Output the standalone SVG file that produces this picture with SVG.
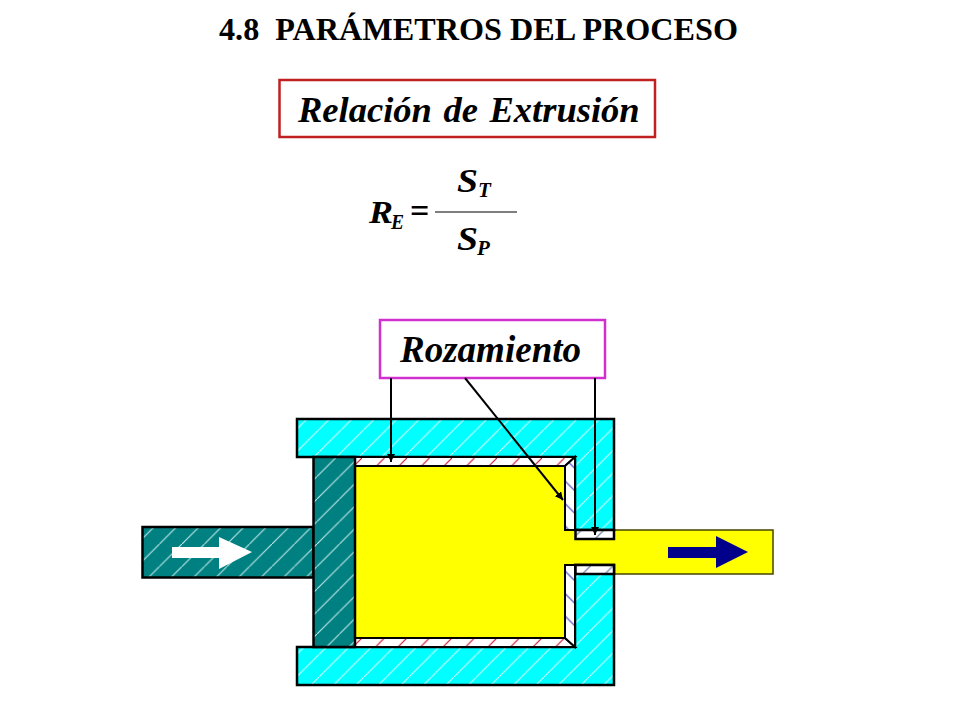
<svg xmlns="http://www.w3.org/2000/svg" width="960" height="720" viewBox="0 0 960 720">
<style>
.t{font-family:"Liberation Serif","Times New Roman",serif;font-weight:bold;fill:#000}
.i{font-style:italic}
.s{stroke:#000;stroke-width:2.5;stroke-linejoin:miter}
.l{stroke:#000;stroke-width:2;stroke-linejoin:miter}
.c{stroke:#000;stroke-width:2;fill:none;marker-end:url(#a)}
</style>
<defs>
<marker id="a" markerUnits="userSpaceOnUse" markerWidth="10" markerHeight="10" refX="8" refY="4" orient="auto"><path d="M0,0L8,4L0,8Z" fill="#000"/></marker>
<pattern id="hc" patternUnits="userSpaceOnUse" width="22.5" height="22.5" patternTransform="translate(4 2)"><rect width="22.5" height="22.5" fill="#00ffff"/><path d="M-2,24.5L24.5,-2" stroke="#d8ffff" stroke-width="1"/></pattern>
<pattern id="ht" patternUnits="userSpaceOnUse" width="22.5" height="22.5" patternTransform="translate(2 4)"><rect width="22.5" height="22.5" fill="#008080"/><path d="M-2,24.5L24.5,-2" stroke="#c8ecec" stroke-width="1"/></pattern>
<pattern id="hr" patternUnits="userSpaceOnUse" width="22.5" height="22.5" patternTransform="translate(2 8)"><rect width="22.5" height="22.5" fill="#fff"/><path d="M-2,24.5L24.5,-2" stroke="#d01830" stroke-width="1.200"/></pattern>
<pattern id="hb" patternUnits="userSpaceOnUse" width="22.5" height="22.5" patternTransform="translate(0 6)"><rect width="22.5" height="22.5" fill="#fff"/><path d="M-2,-2L24.5,24.5" stroke="#4040c0" stroke-width="1.200"/></pattern>
<pattern id="hw" patternUnits="userSpaceOnUse" width="22.5" height="22.5" patternTransform="translate(6 3)"><rect width="22.5" height="22.5" fill="#fff"/><path d="M-2,24.5L24.5,-2" stroke="#6070a0" stroke-width="1.200"/></pattern>
</defs>

<text id="title" class="t" x="219" y="40" font-size="31" textLength="519" lengthAdjust="spacingAndGlyphs" xml:space="preserve">4.8  PARÁMETROS DEL PROCESO</text>

<g id="box-relacion">
<rect x="279.500" y="80" width="375.500" height="57" fill="#fff" stroke="#c02020" stroke-width="2.500"/>
<text class="t i" x="298" y="122" font-size="36.500" word-spacing="2.500">Relación de Extrusión</text>
</g>

<g id="formula">
<text class="t i" x="369" y="223" font-size="32" textLength="24" lengthAdjust="spacingAndGlyphs">R</text>
<text class="t i" x="391" y="229" font-size="20" textLength="13" lengthAdjust="spacingAndGlyphs">E</text>
<text class="t" x="410" y="222" font-size="34">=</text>
<text class="t i" x="457" y="192" font-size="33" textLength="21" lengthAdjust="spacingAndGlyphs">S</text>
<text class="t i" x="478" y="197" font-size="21">T</text>
<path d="M435,212H517" stroke="#000" stroke-width="1.200"/>
<text class="t i" x="457" y="250" font-size="33" textLength="21" lengthAdjust="spacingAndGlyphs">S</text>
<text class="t i" x="477" y="255" font-size="21">P</text>
</g>

<g id="box-rozamiento">
<rect x="380" y="320" width="225" height="58" fill="#fff" stroke="#d030d0" stroke-width="2.500"/>
<text class="t i" x="400" y="362" font-size="37" textLength="181" lengthAdjust="spacing">Rozamiento</text>
</g>

<g id="billet">
<path d="M355,466H565V530H575V539H614V530H773V574H614V565H575V574H565V638H355Z" fill="#ffff00"/>
<path d="M614,530H773V574H614" fill="none" stroke="#444400" stroke-width="1.500"/>
</g>

<g id="die">
<path class="s" d="M297,419H614V530H575V457H297Z" fill="url(#hc)"/>
<path class="s" d="M297,685H614V565H575V647H297Z" fill="url(#hc)"/>
</g>

<g id="lining">
<path class="l" d="M355,457H575L565,466H355Z" fill="url(#hr)"/>
<path class="l" d="M355,647H575L565,638H355Z" fill="url(#hr)"/>
<path class="l" d="M575,457V530H565V466Z" fill="url(#hb)"/>
<path class="l" d="M575,647V565H565V638Z" fill="url(#hb)"/>
<rect class="s" x="575.500" y="530" width="38.500" height="9" fill="url(#hw)"/>
<rect class="s" x="575.500" y="565" width="38.500" height="9" fill="url(#hw)"/>
</g>

<g id="ram">
<rect class="s" x="142.500" y="527" width="171" height="50.500" fill="url(#ht)"/>
<rect class="s" x="313.500" y="457" width="41.500" height="190" fill="url(#ht)"/>
</g>

<path id="arrow-white" d="M172,547H219V537L252,552L219,569V558H172Z" fill="#fff"/>
<path id="arrow-blue" d="M668,547H716V536L748,552L716,568V558H668Z" fill="#00008b"/>

<g id="connectors">
<path class="c" d="M391,378V462"/>
<path class="c" d="M465,378L563,500"/>
<path class="c" d="M595,378V535"/>
</g>
</svg>
